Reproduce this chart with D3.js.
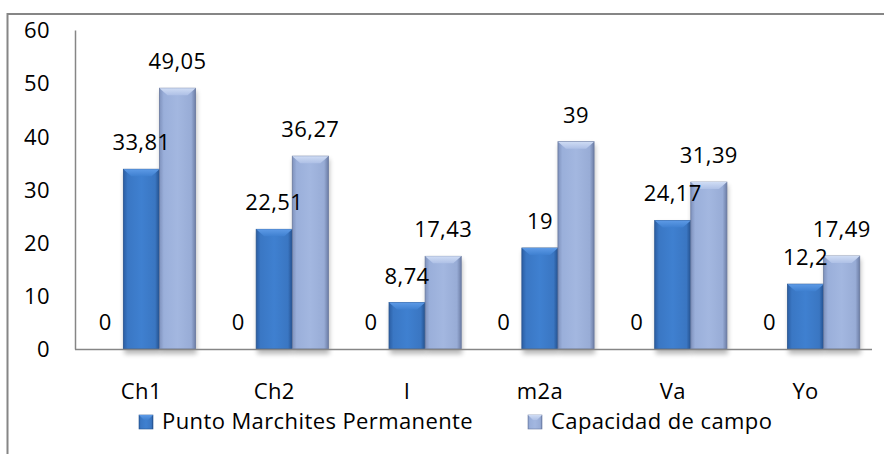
<!DOCTYPE html>
<html>
<head>
<meta charset="utf-8">
<script src="https://cdn.jsdelivr.net/npm/d3@7/dist/d3.min.js"></script>
<style>
  body { margin: 0; background: #fff; }
  svg text { font-family: "Open Sans", Lato, sans-serif; font-size: 22px; letter-spacing: 0.4px; fill: #000; }
</style>
</head>
<body>
<script>
"use strict";

// chart data
var categories = ["Ch1", "Ch2", "I", "m2a", "Va", "Yo"];
var seriesNames = ["Serie 0", "Punto Marchites Permanente", "Capacidad de campo"];
var ceroValues = [0, 0, 0, 0, 0, 0];
var pmpValues = [33.81, 22.51, 8.74, 19, 24.17, 12.2];
var ccValues = [49.05, 36.27, 17.43, 39, 31.39, 17.49];
var yTicks = [0, 10, 20, 30, 40, 50, 60];

var width = 884, height = 454;
var plot = { left: 75, right: 872, top: 30, bottom: 349 };

var svg = d3.select("body").append("svg")
  .attr("width", width)
  .attr("height", height);

var defs = svg.append("defs");

// gradients for bevelled bars
function hGrad(id, stops) {
  var g = defs.append("linearGradient").attr("id", id)
    .attr("x1", 0).attr("x2", 1).attr("y1", 0).attr("y2", 0);
  stops.forEach(function (s) {
    g.append("stop").attr("offset", s[0]).attr("stop-color", s[1]);
  });
}
hGrad("gBlue", [[0, "#2b5ea3"], [0.12, "#3a77c4"], [0.5, "#3f80d0"], [0.88, "#3a76c2"], [1, "#24508d"]]);
hGrad("gLight", [[0, "#7f92bd"], [0.12, "#9aafda"], [0.5, "#a3b7e0"], [0.88, "#98acd6"], [1, "#6d7ea6"]]);

var vBlue = defs.append("linearGradient").attr("id", "vBlue")
  .attr("x1", 0).attr("x2", 0).attr("y1", 0).attr("y2", 1);
vBlue.append("stop").attr("offset", 0).attr("stop-color", "#5d9ae6");
vBlue.append("stop").attr("offset", 1).attr("stop-color", "#3f80d0");
var vLight = defs.append("linearGradient").attr("id", "vLight")
  .attr("x1", 0).attr("x2", 0).attr("y1", 0).attr("y2", 1);
vLight.append("stop").attr("offset", 0).attr("stop-color", "#cfdcf4");
vLight.append("stop").attr("offset", 1).attr("stop-color", "#aec0e6");

var shadow = defs.append("filter").attr("id", "shadow")
  .attr("x", "-30%").attr("y", "-10%").attr("width", "160%").attr("height", "130%");
shadow.append("feGaussianBlur").attr("stdDeviation", 2.5);

// outer border of the chart area (runs off the right and bottom edges)
svg.append("rect")
  .attr("x", 7.5).attr("y", 14)
  .attr("width", 900).attr("height", 460)
  .attr("fill", "none")
  .attr("stroke", "#868686")
  .attr("stroke-width", 2);

var x = d3.scaleBand()
  .domain(categories)
  .range([plot.left, plot.right])
  .paddingInner(0).paddingOuter(0);

var xs = d3.scaleBand()
  .domain(seriesNames)
  .range([0, x.bandwidth()])
  .paddingInner(0).paddingOuter(0.34);

var y = d3.scaleLinear()
  .domain([0, 60])
  .range([plot.bottom, plot.top]);

// y axis
var yAxis = svg.append("g")
  .attr("transform", "translate(" + plot.left + ",0)")
  .call(d3.axisLeft(y).tickValues(yTicks).tickSize(0).tickPadding(25));
yAxis.select(".domain").attr("stroke", "#868686").attr("stroke-width", 1.5);
yAxis.selectAll("text").attr("dy", "0.35em");

var rows = categories.map(function (c, i) {
  return { cat: c, vals: [ceroValues[i], pmpValues[i], ccValues[i]] };
});

var groups = svg.append("g").selectAll("g")
  .data(rows)
  .enter().append("g")
  .attr("transform", function (d) { return "translate(" + x(d.cat) + ",0)"; });

var fills = ["none", "url(#gBlue)", "url(#gLight)"];
var tops = ["none", "url(#vBlue)", "url(#vLight)"];
var strokes = ["none", "#27548f", "#6a7aa0"];

// shadows first
groups.each(function (d) {
  var g = d3.select(this);
  d.vals.forEach(function (v, k) {
    if (k === 0) return;
    g.append("rect")
      .attr("x", xs(seriesNames[k]) + 1)
      .attr("y", y(v) + 3)
      .attr("width", xs.bandwidth())
      .attr("height", y(0) - y(v) + 2)
      .attr("fill", "#000")
      .attr("opacity", 0.28)
      .attr("filter", "url(#shadow)");
  });
});

// x axis baseline
svg.append("line")
  .attr("x1", plot.left).attr("x2", plot.right)
  .attr("y1", plot.bottom + 0.5).attr("y2", plot.bottom + 0.5)
  .attr("stroke", "#868686").attr("stroke-width", 1.5);

// bars
groups.each(function (d) {
  var g = d3.select(this);
  d.vals.forEach(function (v, k) {
    var bx = xs(seriesNames[k]);
    var bw = xs.bandwidth();
    var by = y(v);
    var bh = y(0) - y(v);
    if (k > 0 && bh > 0) {
      g.append("rect")
        .attr("x", bx).attr("y", by)
        .attr("width", bw).attr("height", bh)
        .attr("fill", fills[k])
        .attr("stroke", strokes[k]).attr("stroke-width", 0.8);
      var bev = Math.min(7, bh / 2);
      g.append("path")
        .attr("d", "M" + bx + "," + by + "L" + (bx + bw) + "," + by +
          "L" + (bx + bw - 8) + "," + (by + bev) + "L" + (bx + 8) + "," + (by + bev) + "Z")
        .attr("fill", tops[k])
        .attr("stroke", "none");
    }
  });
});

// data labels on top of everything
groups.each(function (d) {
  var g = d3.select(this);
  d.vals.forEach(function (v, k) {
    g.append("text")
      .attr("x", xs(seriesNames[k]) + xs.bandwidth() / 2)
      .attr("y", y(v) - 19)
      .attr("text-anchor", "middle")
      .text(String(v).replace(".", ","));
  });
});

// category labels
svg.append("g").selectAll("text")
  .data(categories)
  .enter().append("text")
  .attr("x", function (d) { return x(d) + x.bandwidth() / 2; })
  .attr("y", 399)
  .attr("text-anchor", "middle")
  .text(function (d) { return d; });

// legend
var legendItems = [
  { name: seriesNames[1], x: 139, fill: "url(#gBlue)", top: "url(#vBlue)", stroke: strokes[1] },
  { name: seriesNames[2], x: 528, fill: "url(#gLight)", top: "url(#vLight)", stroke: strokes[2] }
];
var legend = svg.append("g").selectAll("g")
  .data(legendItems)
  .enter().append("g")
  .attr("transform", function (d) { return "translate(" + d.x + ",415)"; });
legend.append("rect")
  .attr("width", 14).attr("height", 14)
  .attr("fill", function (d) { return d.fill; })
  .attr("stroke", function (d) { return d.stroke; }).attr("stroke-width", 0.6);
legend.append("path")
  .attr("d", "M0,0L14,0L9,5L5,5Z")
  .attr("fill", function (d) { return d.top; });
legend.append("text")
  .attr("x", 23).attr("y", 14)
  .text(function (d) { return d.name; });
</script>
</body>
</html>
